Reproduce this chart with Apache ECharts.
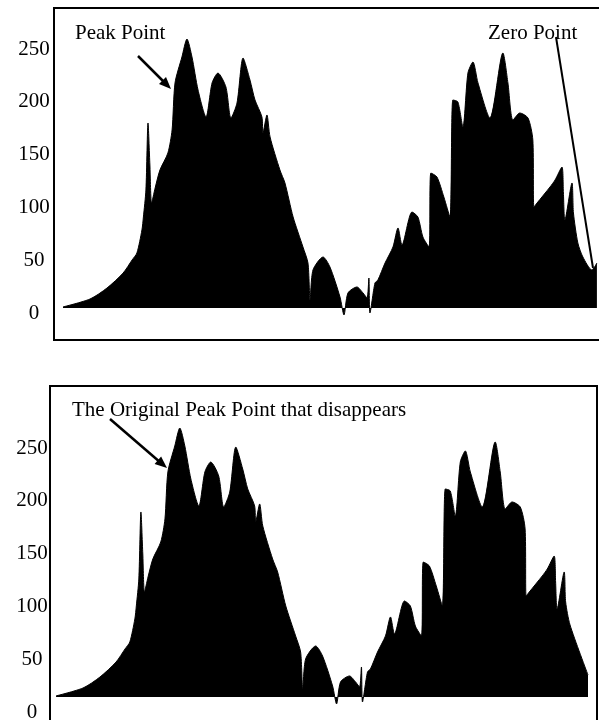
<!DOCTYPE html>
<html>
<head>
<meta charset="utf-8">
<script src="https://cdn.jsdelivr.net/npm/echarts@6/dist/echarts.min.js"></script>
<style>
html,body{margin:0;padding:0;background:#fff;}
#chart{width:599px;height:720px;}
</style>
</head>
<body>
<div id="chart"></div>
<script>
// Shared histogram shape (bin position, height above baseline)
var bins = [0, 12.9, 21.0, 28.7, 33.0, 35.3, 37.7, 38.4, 39.6, 40.6, 41.5, 42.3, 44.0, 46.3, 50.1, 52.1, 53.5, 56.8, 59.2, 61.6, 64.5, 68.3, 71.2, 74.0, 77.8, 80.2, 83.1, 86.0, 89.3, 91.7, 95.0, 95.5, 97.4, 98.9, 103.6, 106.0, 109.9, 114.6, 117.0, 118.0, 119.4, 124.2, 127.5, 132.3, 134.2, 136.1, 140.4, 143.3, 145.2, 146.1, 146.6, 149.0, 150.4, 153.8, 157.6, 160.0, 161.9, 166.7, 169.5, 171.9, 174.8, 175.7, 178.6, 181.9, 184.8, 186.2, 188.6, 191.0, 193.4, 195.8, 198.2, 203.9, 210.1, 212.5, 214.9, 218.2, 222.1, 224.4, 224.9, 226.4, 232.6, 235.0, 238.3, 239.0, 239.7, 243.1, 243.8];
var counts = [1, 8.5, 18.9, 33.1, 45.5, 52.1, 73.9, 86.2, 111.7, 175.2, 135.4, 99.4, 113.6, 130.7, 146.8, 168.6, 213.1, 237.7, 254.7, 237.7, 206.4, 180.9, 213.1, 222.5, 209.3, 179.9, 194.1, 236.7, 215.9, 197.0, 180.9, 165.7, 182.8, 161.9, 130.7, 118.4, 86.2, 57.8, 42.6, 7.6, 36.0, 48.3, 38.8, 10.4, -6.6, 14.2, 19.9, 14.2, 9.5, 28.4, -4.7, 23.7, 26.5, 42.6, 57.8, 75.8, 59.7, 90.9, 86.2, 67.2, 57.8, 127.8, 124.1, 105.1, 86.2, 197.0, 195.1, 171.4, 222.5, 233.0, 213.1, 179.9, 241.5, 213.1, 178.0, 184.7, 179.9, 159.1, 95.6, 99.4, 114.6, 121.2, 133.5, 108.9, 83.3, 118.4, 90.0];
// Tail of the upper histogram (with the zero point)
var topTailBins = [245.9, 248.3, 252.6, 255.0];
var topTailCounts = [61.6, 48.3, 36.0, 42.6];
// Tail of the lower histogram
var bottomTailBins = [245.9, 254.5];
var bottomTailCounts = [68.2, 20.8];
// Y tick labels
var yTicks = [0, 50, 100, 150, 200, 250];

function zip(xs, ys) { return xs.map(function (x, i) { return [x, ys[i]]; }); }
var topData = zip(bins, counts).concat(zip(topTailBins, topTailCounts));
var bottomData = zip(bins, counts).concat(zip(bottomTailBins, bottomTailCounts));

var FONT = '"Liberation Serif", "Times New Roman", serif';
var chart = echarts.init(document.getElementById('chart'), null, {renderer: 'canvas'});

function labelAxis(gi, margin) {
  return {
    type: 'value', gridIndex: gi, min: yTicks[0], max: yTicks[yTicks.length - 1], interval: 50,
    axisLine: {show: false}, axisTick: {show: false}, splitLine: {show: false},
    axisLabel: {show: true, color: '#000', fontFamily: FONT, fontSize: 21, align: 'center', margin: margin,
      hideOverlap: false,
      formatter: function (v) { return yTicks.indexOf(v) >= 0 ? String(v) : ''; }}
  };
}

var option = {
  animation: false,
  backgroundColor: '#fff',
  grid: [
    {left: 54, top: 8, width: 545, height: 332, show: false, outerBoundsMode: 'none', containLabel: false},
    {left: 54, top: 49, width: 10, height: 264, show: false, outerBoundsMode: 'none', containLabel: false},
    {left: 50, top: 386, width: 547, height: 334, show: false, outerBoundsMode: 'none', containLabel: false},
    {left: 50, top: 448, width: 10, height: 264, show: false, outerBoundsMode: 'none', containLabel: false}
  ],
  xAxis: [
    {type: 'value', gridIndex: 0, min: -4.3, max: 256.0, show: false, splitLine: {show: false}},
    {type: 'value', gridIndex: 1, min: 0, max: 1, show: false, splitLine: {show: false}},
    {type: 'value', gridIndex: 2, min: -2.9, max: 258.8, show: false, splitLine: {show: false}},
    {type: 'value', gridIndex: 3, min: 0, max: 1, show: false, splitLine: {show: false}}
  ],
  yAxis: [
    {type: 'value', gridIndex: 0, min: -30.3, max: 284.1, show: false, splitLine: {show: false}},
    labelAxis(1, 20),
    {type: 'value', gridIndex: 2, min: -21.8, max: 294.5, show: false, splitLine: {show: false}},
    labelAxis(3, 18)
  ],
  series: [
    {type: 'line', xAxisIndex: 0, yAxisIndex: 0, data: topData, symbol: 'none', smooth: 0.25,
      lineStyle: {color: '#000', width: 1}, areaStyle: {color: '#000', opacity: 1}},
    {type: 'line', xAxisIndex: 2, yAxisIndex: 2, data: bottomData, symbol: 'none', smooth: 0.25,
      lineStyle: {color: '#000', width: 1}, areaStyle: {color: '#000', opacity: 1}}
  ],
  graphic: [
    {type: 'rect', shape: {x: 54, y: 8, width: 560, height: 332}, style: {fill: 'none', stroke: '#000', lineWidth: 2}, z: 10},
    {type: 'rect', shape: {x: 50, y: 386, width: 547, height: 400}, style: {fill: 'none', stroke: '#000', lineWidth: 2}, z: 10},
    {type: 'text', x: 75, y: 33, style: {text: 'Peak Point', font: '21px ' + FONT, fill: '#000', verticalAlign: 'middle'}},
    {type: 'line', shape: {x1: 138, y1: 56, x2: 165, y2: 83}, style: {stroke: '#000', lineWidth: 2.5}},
    {type: 'polygon', shape: {points: [[171, 89], [159, 84], [166, 77]]}, style: {fill: '#000'}},
    {type: 'text', x: 488, y: 33, style: {text: 'Zero Point', font: '21px ' + FONT, fill: '#000', verticalAlign: 'middle'}},
    {type: 'line', shape: {x1: 556, y1: 37, x2: 593, y2: 268}, style: {stroke: '#000', lineWidth: 2}},
    {type: 'text', x: 72, y: 410, style: {text: 'The Original Peak Point that disappears', font: '21px ' + FONT, fill: '#000', verticalAlign: 'middle'}},
    {type: 'line', shape: {x1: 110, y1: 419, x2: 161, y2: 463}, style: {stroke: '#000', lineWidth: 2.5}},
    {type: 'polygon', shape: {points: [[167, 468], [154.6, 464], [161.1, 456.4]]}, style: {fill: '#000'}}
  ]
};
chart.setOption(option);
</script>
</body>
</html>
